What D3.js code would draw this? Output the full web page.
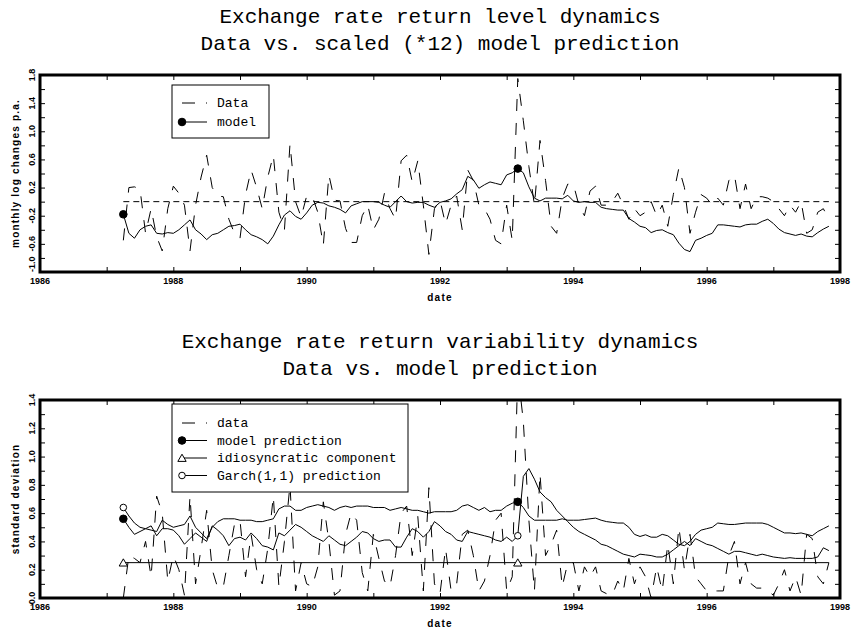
<!DOCTYPE html>
<html>
<head>
<meta charset="utf-8">
<script src="https://cdn.jsdelivr.net/npm/d3@7"></script>
<style>
    body { margin: 0; background: #fff; }
    .titulo { font-family: 'Liberation Mono', 'DejaVu Sans Mono', monospace; font-size: 21px; fill: #000; }
    .ley { font-family: 'Liberation Mono', 'DejaVu Sans Mono', monospace; font-size: 13px; fill: #000; }
    .lbl { font-family: 'Liberation Sans', Arial, sans-serif; font-size: 9px; font-weight: bold; fill: #000; }
    .eje { font-family: 'Liberation Sans', Arial, sans-serif; font-size: 10px; font-weight: bold; fill: #000; letter-spacing: 1.2px; }
    .tick line { stroke: #000; stroke-width: 1; }
</style>
</head>
<body>
<div id="grafica"></div>
<script>
// primer mes de la serie (abril 1987), datos mensuales
const startYear = 1987.25

// panel superior: nivel de la rentabilidad
const dataLevel = [
    -0.55, 0.20, 0.21, 0.18, -0.45, -0.10, -0.50, -0.70, -0.10, 0.22,
    0.12, -0.05, -0.70, -0.05, 0.35, 0.66, 0.20, 0.08, 0.07, -0.25,
    -0.45, -0.52, 0.10, 0.45, 0.20, -0.10, 0.35, 0.66, -0.15, -0.40,
    0.82, 0.00, -0.22, 0.08, 0.08, -0.15, -0.62, 0.38, 0.02, 0.01,
    -0.38, -0.58, -0.58, -0.20, -0.05, -0.40, -0.25, 0.12, -0.10, -0.25,
    0.58, 0.66, 0.28, 0.58, -0.05, -0.75, -0.10, 0.02, -0.32, -0.05,
    0.08, -0.40, 0.45, 0.30, -0.05, -0.10, -0.25, -0.55, -0.60, -0.05,
    -0.55, 1.75, 1.15, 0.50, -0.05, 0.87, 0.30, -0.35, -0.45, 0.05,
    0.25, 0.25, -0.05, -0.20, 0.15, 0.22, -0.05, -0.05, 0.00, 0.12,
    -0.05, -0.25, -0.10, -0.20, -0.15, 0.00, -0.20, -0.05, -0.35, 0.10,
    0.48, 0.20, -0.45, -0.15, 0.10, 0.05, -0.05, 0.05, -0.05, 0.30,
    0.38, -0.10, 0.25, -0.10, 0.07, 0.07, 0.05, 0.00, -0.10, -0.20,
    -0.05, -0.15, 0.00, -0.45, -0.40, -0.15, -0.10, -0.25
]
const modelLevel = [
    -0.18, -0.45, -0.52, -0.40, -0.35, -0.33, -0.45, -0.46, -0.44, -0.45,
    -0.40, -0.33, -0.26, -0.40, -0.46, -0.54, -0.47, -0.45, -0.40, -0.35,
    -0.34, -0.32, -0.40, -0.47, -0.50, -0.54, -0.60, -0.49, -0.33, -0.19,
    -0.13, -0.21, -0.25, -0.16, -0.05, -0.01, -0.02, -0.06, -0.08, -0.11,
    -0.16, -0.06, -0.03, 0.00, 0.00, 0.00, -0.01, -0.05, -0.08, 0.00,
    0.08, 0.00, -0.02, -0.01, -0.01, -0.05, -0.08, -0.01, 0.01, 0.04,
    0.11, 0.17, 0.36, 0.31, 0.19, 0.24, 0.28, 0.26, 0.24, 0.38,
    0.41, 0.47, 0.41, 0.21, 0.05, 0.01, 0.05, 0.05, 0.05, 0.04,
    0.09, 0.01, -0.01, 0.00, -0.01, -0.01, -0.08, -0.10, -0.11, -0.12,
    -0.12, -0.24, -0.29, -0.35, -0.37, -0.44, -0.41, -0.40, -0.44, -0.47,
    -0.59, -0.68, -0.71, -0.55, -0.52, -0.48, -0.45, -0.33, -0.33, -0.34,
    -0.35, -0.36, -0.33, -0.32, -0.32, -0.28, -0.25, -0.31, -0.39, -0.44,
    -0.46, -0.48, -0.46, -0.49, -0.50, -0.44, -0.39, -0.35
]
const meanLevel = 0.0

// panel inferior: variabilidad
const dataSd = [
    0.00, 0.30, 0.28, 0.25, 0.40, 0.15, 0.72, 0.60, 0.12, 0.30,
    0.20, 0.02, 0.72, 0.10, 0.35, 0.62, 0.20, 0.07, 0.08, 0.30,
    0.52, 0.55, 0.15, 0.45, 0.20, 0.10, 0.35, 0.72, 0.08, 0.40,
    0.80, 0.05, 0.25, 0.10, 0.08, 0.22, 0.68, 0.40, 0.02, 0.05,
    0.45, 0.60, 0.55, 0.18, 0.05, 0.45, 0.28, 0.12, 0.08, 0.30,
    0.60, 0.65, 0.30, 0.58, 0.05, 0.78, 0.10, 0.03, 0.35, 0.05,
    0.10, 0.45, 0.48, 0.30, 0.05, 0.12, 0.30, 0.55, 0.60, 0.05,
    0.15, 1.60, 1.25, 0.55, 0.05, 0.88, 0.30, 0.38, 0.48, 0.08,
    0.25, 0.25, 0.05, 0.22, 0.15, 0.22, 0.05, 0.03, 0.02, 0.12,
    0.05, 0.28, 0.10, 0.22, 0.15, 0.00, 0.22, 0.05, 0.38, 0.10,
    0.50, 0.20, 0.45, 0.15, 0.10, 0.05, 0.05, 0.05, 0.05, 0.30,
    0.40, 0.10, 0.25, 0.10, 0.07, 0.07, 0.05, 0.02, 0.10, 0.20,
    0.05, 0.15, 0.02, 0.45, 0.42, 0.15, 0.10, 0.25
]
const modelSd = [
    0.56, 0.50, 0.45, 0.47, 0.49, 0.48, 0.47, 0.55, 0.52, 0.50,
    0.51, 0.52, 0.58, 0.50, 0.46, 0.42, 0.50, 0.54, 0.56, 0.56,
    0.56, 0.55, 0.55, 0.55, 0.54, 0.54, 0.55, 0.56, 0.63, 0.65,
    0.65, 0.62, 0.62, 0.64, 0.65, 0.66, 0.65, 0.64, 0.62, 0.64,
    0.65, 0.64, 0.65, 0.65, 0.65, 0.64, 0.64, 0.64, 0.62, 0.63,
    0.64, 0.63, 0.62, 0.62, 0.61, 0.60, 0.61, 0.61, 0.61, 0.61,
    0.62, 0.65, 0.66, 0.64, 0.62, 0.64, 0.61, 0.62, 0.62, 0.65,
    0.67, 0.68, 0.64, 0.58, 0.55, 0.55, 0.55, 0.55, 0.55, 0.56,
    0.55, 0.55, 0.55, 0.555, 0.56, 0.565, 0.55, 0.54, 0.535, 0.53,
    0.53, 0.50, 0.45, 0.435, 0.447, 0.43, 0.43, 0.45, 0.44, 0.41,
    0.38, 0.37, 0.40, 0.45, 0.48, 0.49, 0.50, 0.53, 0.525, 0.52,
    0.52, 0.525, 0.53, 0.53, 0.53, 0.53, 0.52, 0.50, 0.48, 0.46,
    0.46, 0.455, 0.46, 0.45, 0.44, 0.47, 0.49, 0.51
]
const garchSd = [
    0.64, 0.58, 0.53, 0.50, 0.49, 0.51, 0.44, 0.49, 0.49, 0.48,
    0.44, 0.38, 0.42, 0.46, 0.43, 0.40, 0.51, 0.48, 0.44, 0.37,
    0.42, 0.43, 0.41, 0.46, 0.42, 0.37, 0.36, 0.34, 0.46, 0.44,
    0.48, 0.52, 0.50, 0.47, 0.44, 0.42, 0.40, 0.44, 0.41, 0.38,
    0.37, 0.40, 0.43, 0.47, 0.46, 0.42, 0.40, 0.41, 0.41, 0.36,
    0.36, 0.43, 0.49, 0.47, 0.43, 0.47, 0.54, 0.51, 0.47, 0.45,
    0.41, 0.40, 0.47, 0.46, 0.45, 0.44, 0.43, 0.41, 0.40, 0.43,
    0.40, 0.44, 0.86, 0.915, 0.84, 0.75, 0.71, 0.68, 0.62, 0.58,
    0.54, 0.50, 0.47, 0.45, 0.43, 0.41, 0.38, 0.37, 0.35, 0.33,
    0.31, 0.30, 0.29, 0.31, 0.305, 0.30, 0.29, 0.29, 0.31, 0.34,
    0.37, 0.40, 0.37, 0.42, 0.40, 0.38, 0.37, 0.35, 0.33, 0.31,
    0.33, 0.33, 0.32, 0.31, 0.30, 0.31, 0.30, 0.29, 0.285, 0.28,
    0.285, 0.28, 0.28, 0.28, 0.28, 0.29, 0.355, 0.335
]
const idioSd = 0.25

// meses donde se dibujan los marcadores
const markerIdx = [0, 71]

// ejes
const yearTicks = d3.range(1986, 1999)
const yearLabels = [1986, 1988, 1990, 1992, 1994, 1996, 1998]
const levelTicks = d3.range(-10, 19, 2).map(d => d / 10)
const levelLabels = [-1.0, -0.6, -0.2, 0.2, 0.6, 1.0, 1.4, 1.8]
const sdTicks = d3.range(0, 15).map(d => d / 10)
const sdLabels = [0.0, 0.2, 0.4, 0.6, 0.8, 1.0, 1.2, 1.4]

const months = dataLevel.map((d, i) => startYear + i / 12)

const W = 854, H = 632
const svg = d3.select('#grafica')
    .append('svg')
    .attr('width', W)
    .attr('height', H)

const x = d3.scaleLinear().domain([1986, 1998]).range([40, 840])

function titulo(lineas, y0) {
    lineas.forEach((t, k) => {
        svg.append('text')
            .attr('class', 'titulo')
            .attr('x', 440)
            .attr('y', y0 + k * 27)
            .attr('text-anchor', 'middle')
            .text(t)
    })
}

// marco, ticks interiores y etiquetas de un panel
function panel(id, top, bottom, y, ticks, labels, ytitle) {
    const g = svg.append('g')

    g.append('clipPath').attr('id', id)
        .append('rect')
        .attr('x', 40).attr('y', top)
        .attr('width', 800).attr('height', bottom - top)

    const ejes = [
        d3.axisBottom(x).tickValues(yearTicks).tickSize(-5).tickFormat(''),
        d3.axisTop(x).tickValues(yearTicks).tickSize(-5).tickFormat(''),
        d3.axisLeft(y).tickValues(ticks).tickSize(-5).tickFormat(''),
        d3.axisRight(y).tickValues(ticks).tickSize(-5).tickFormat('')
    ]
    const pos = [[0, bottom], [0, top], [40, 0], [840, 0]]
    ejes.forEach((a, k) => {
        const e = g.append('g')
            .attr('transform', `translate(${pos[k][0]}, ${pos[k][1]})`)
            .call(a)
        e.select('.domain').remove()
    })

    g.append('rect')
        .attr('x', 40).attr('y', top)
        .attr('width', 800).attr('height', bottom - top)
        .attr('fill', 'none')
        .attr('stroke', '#000')
        .attr('stroke-width', 3)

    g.selectAll('.xl')
        .data(yearLabels)
        .enter().append('text')
        .attr('class', 'lbl')
        .attr('x', d => x(d))
        .attr('y', bottom + 12)
        .attr('text-anchor', 'middle')
        .text(d => d)

    g.selectAll('.yl')
        .data(labels)
        .enter().append('text')
        .attr('class', 'lbl')
        .attr('transform', d => `translate(35, ${y(d)}) rotate(-90)`)
        .attr('text-anchor', d => (y(d) > bottom - 6 && y.domain()[0] < 0) ? 'start' : 'middle')
        .text(d => d.toFixed(1))

    g.append('text')
        .attr('class', 'eje')
        .attr('x', 440)
        .attr('y', bottom + 29)
        .attr('text-anchor', 'middle')
        .text('date')

    g.append('text')
        .attr('class', 'eje')
        .attr('transform', `translate(19, ${(top + bottom) / 2}) rotate(-90)`)
        .attr('text-anchor', 'middle')
        .text(ytitle)
    return g
}

function serie(g, clip, vals, y, dash) {
    const line = d3.line()
        .x((d, i) => x(months[i]))
        .y(d => y(d))
    g.append('path')
        .datum(vals)
        .attr('clip-path', `url(#${clip})`)
        .attr('d', line)
        .attr('fill', 'none')
        .attr('stroke', '#000')
        .attr('stroke-width', 1)
        .attr('stroke-dasharray', dash)
}

function marcador(g, tipo, cx, cy) {
    if (tipo === 'tri') {
        g.append('path')
            .attr('d', d3.symbol(d3.symbolTriangle, 30)())
            .attr('transform', `translate(${cx}, ${cy + 1})`)
            .attr('fill', '#fff').attr('stroke', '#000').attr('stroke-width', 1)
    } else {
        g.append('circle')
            .attr('cx', cx).attr('cy', cy)
            .attr('r', tipo === 'lleno' ? 3.8 : 3.3)
            .attr('fill', tipo === 'lleno' ? '#000' : '#fff')
            .attr('stroke', '#000').attr('stroke-width', 1)
    }
}

function leyenda(g, x0, y0, w, h, items) {
    g.append('rect')
        .attr('x', x0).attr('y', y0)
        .attr('width', w).attr('height', h)
        .attr('fill', '#fff').attr('stroke', '#000').attr('stroke-width', 1)
    items.forEach((it, k) => {
        const yy = y0 + it.dy
        g.append('line')
            .attr('x1', x0 + 10).attr('x2', x0 + 35)
            .attr('y1', yy).attr('y2', yy)
            .attr('stroke', '#000').attr('stroke-width', 1)
            .attr('stroke-dasharray', it.dash)
        if (it.marca) marcador(g, it.marca, x0 + 10, yy)
        g.append('text')
            .attr('class', 'ley')
            .attr('x', x0 + 45).attr('y', yy + 4)
            .text(it.txt)
    })
}

// ---------- panel superior ----------
titulo(['Exchange rate return level dynamics', 'Data vs. scaled (*12) model prediction'], 23)

const y1 = d3.scaleLinear().domain([-1.0, 1.8]).range([272, 75])
const g1 = panel('clip1', 75, 272, y1, levelTicks, levelLabels, 'monthly log changes p.a.')

g1.append('line')
    .attr('x1', x(months[0])).attr('x2', x(months[months.length - 1]))
    .attr('y1', y1(meanLevel)).attr('y2', y1(meanLevel))
    .attr('stroke', '#000').attr('stroke-width', 1)
    .attr('stroke-dasharray', '6,4')

serie(g1, 'clip1', dataLevel, y1, '12,12')
serie(g1, 'clip1', modelLevel, y1, null)
markerIdx.forEach(i => marcador(g1, 'lleno', x(months[i]), y1(modelLevel[i])))

leyenda(g1, 172, 85, 97, 53, [
    { dy: 18, dash: '13,11', txt: 'Data' },
    { dy: 37, dash: null, marca: 'lleno', txt: 'model' }
])

// ---------- panel inferior ----------
titulo(['Exchange rate return variability dynamics', 'Data vs. model prediction'], 348)

const y2 = d3.scaleLinear().domain([0, 1.4]).range([598, 400])
const g2 = panel('clip2', 400, 598, y2, sdTicks, sdLabels, 'standard deviation')

serie(g2, 'clip2', dataSd, y2, '12,12')
serie(g2, 'clip2', modelSd, y2, null)
serie(g2, 'clip2', garchSd, y2, null)
g2.append('line')
    .attr('x1', x(months[0])).attr('x2', x(months[months.length - 1]))
    .attr('y1', y2(idioSd)).attr('y2', y2(idioSd))
    .attr('stroke', '#000').attr('stroke-width', 1)

markerIdx.forEach(i => {
    marcador(g2, 'lleno', x(months[i]), y2(modelSd[i]))
    marcador(g2, 'vacio', x(months[i]), y2(garchSd[i]))
    marcador(g2, 'tri', x(months[i]), y2(idioSd))
})

leyenda(g2, 172, 404, 236, 88, [
    { dy: 19, dash: '13,11', txt: 'data' },
    { dy: 36.5, dash: null, marca: 'lleno', txt: 'model prediction' },
    { dy: 54, dash: null, marca: 'tri', txt: 'idiosyncratic component' },
    { dy: 71.5, dash: null, marca: 'vacio', txt: 'Garch(1,1) prediction' }
])
</script>
</body>
</html>
